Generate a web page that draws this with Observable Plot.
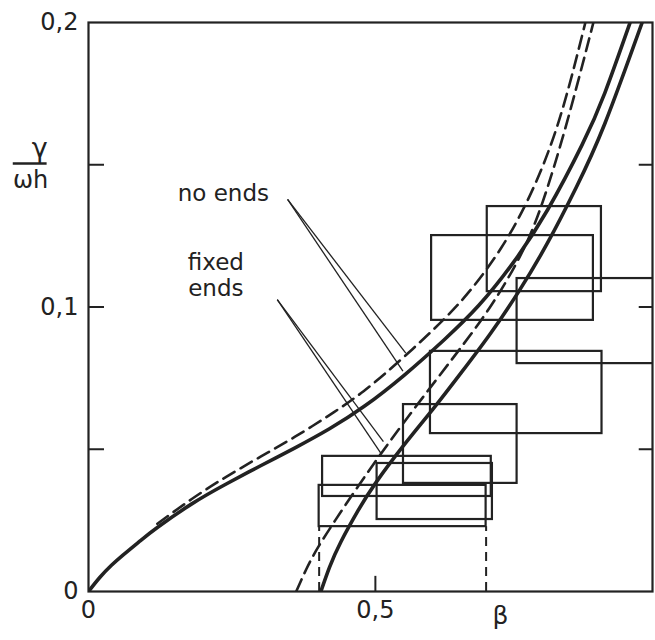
<!DOCTYPE html>
<html>
<head>
<meta charset="utf-8">
<script src="https://cdn.jsdelivr.net/npm/d3@7"></script>
<script src="https://cdn.jsdelivr.net/npm/@observablehq/plot@0.6"></script>
<style>
  html, body { margin: 0; padding: 0; background: #fff; overflow: hidden; }
</style>
</head>
<body>
<div id="chart"></div>
<script>
// ---- tick values / labels ----
const xTickValues = [0, 0.5, 1];
const xTickLabels = ["0", "0,5", "1"];
const yTickValues = [0, 0.1, 0.2];
const yTickLabels = ["0", "0,1", "0,2"];
const yMinorTicks = [0.05, 0.1, 0.15];
const xMinorTicks = [0.5];

// ---- curves (beta, gamma/omega_h) ----
const noEndsSolidBeta  = [0, 0.02, 0.04, 0.06, 0.09, 0.12, 0.18, 0.24, 0.30, 0.36, 0.42, 0.48, 0.55, 0.62, 0.68, 0.74, 0.80, 0.86, 0.90, 0.944];
const noEndsSolidGamma = [0, 0.0050, 0.0092, 0.0128, 0.0178, 0.0225, 0.0308, 0.0378, 0.0442, 0.0505, 0.0572, 0.0650, 0.0760, 0.0885, 0.1005, 0.1155, 0.1341, 0.1569, 0.1753, 0.2];

const noEndsDashBeta  = [0.12, 0.18, 0.24, 0.30, 0.36, 0.42, 0.48, 0.55, 0.62, 0.67, 0.72, 0.77, 0.82, 0.866];
const noEndsDashGamma = [0.0238, 0.0325, 0.0403, 0.0474, 0.0544, 0.0620, 0.0705, 0.0825, 0.0958, 0.1070, 0.1210, 0.1395, 0.1655, 0.2];

const fixedSolidBeta  = [0.405, 0.42, 0.44, 0.47, 0.50, 0.55, 0.60, 0.65, 0.70, 0.75, 0.80, 0.85, 0.90, 0.965];
const fixedSolidGamma = [0, 0.0085, 0.0175, 0.0285, 0.0380, 0.0515, 0.0640, 0.0770, 0.0905, 0.1055, 0.1225, 0.1420, 0.1645, 0.2];

const fixedDashBeta  = [0.362, 0.38, 0.40, 0.43, 0.47, 0.51, 0.55, 0.60, 0.65, 0.70, 0.75, 0.79, 0.834, 0.88];
const fixedDashGamma = [0, 0.0080, 0.0155, 0.0250, 0.0370, 0.0485, 0.0595, 0.0728, 0.0860, 0.1000, 0.1170, 0.1360, 0.1650, 0.2];

// ---- measurement boxes ----
const boxBetaLo  = [0.408, 0.402, 0.503, 0.549, 0.596, 0.598, 0.695, 0.747];
const boxBetaHi  = [0.702, 0.693, 0.704, 0.747, 0.895, 0.880, 0.894, 1.05];
const boxGammaLo = [0.0334, 0.0228, 0.0253, 0.0380, 0.0555, 0.0953, 0.1054, 0.0801];
const boxGammaHi = [0.0475, 0.0373, 0.0450, 0.0657, 0.0844, 0.1251, 0.1353, 0.1100];

// dashed drop lines below the lowest box
const dropBeta = [0.402, 0.693];
const dropGammaTop = 0.0228;

// ---- annotations ----
const labelTexts = ["no ends", "fixed\nends"];
const labelBeta  = [0.235, 0.222];
const labelGamma = [0.1374, 0.1037];
const leaderBeta1  = [0.347, 0.347, 0.329, 0.329];
const leaderGamma1 = [0.1378, 0.1378, 0.1026, 0.1026];
const leaderBeta2  = [0.553, 0.548, 0.514, 0.510];
const leaderGamma2 = [0.0838, 0.0775, 0.0527, 0.0485];

const toPts = (bs, gs) => bs.map((b, i) => ({beta: b, gamma: gs[i]}));
const boxes = boxBetaLo.map((b, i) => ({x1: b, x2: boxBetaHi[i], y1: boxGammaLo[i], y2: boxGammaHi[i]}));
const leaders = leaderBeta1.map((b, i) => ({x1: b, y1: leaderGamma1[i], x2: leaderBeta2[i], y2: leaderGamma2[i]}));
const labels = labelTexts.map((t, i) => ({t, x: labelBeta[i], y: labelGamma[i]}));

const ink = "#222";
const fmt = (vals, labs) => d => labs[vals.indexOf(d)];
const font = "DejaVu Sans, sans-serif";

const chart = Plot.plot({
  width: 655,
  height: 640,
  marginLeft: 88,
  marginRight: 3,
  marginTop: 22,
  marginBottom: 49,
  style: {fontFamily: font, fontSize: "22px", color: ink, background: "#fff"},
  x: {domain: [0, 0.983], axis: null},
  y: {domain: [0, 0.2], axis: null},
  marks: [
    // boxes
    Plot.rect(boxes, {x1: "x1", x2: "x2", y1: "y1", y2: "y2", fill: "none", stroke: ink, strokeWidth: 2.2, clip: true}),
    Plot.ruleX(dropBeta, {x: d => d, y1: 0, y2: dropGammaTop, stroke: ink, strokeWidth: 2, strokeDasharray: "9,6"}),
    // curves
    Plot.line(toPts(noEndsSolidBeta, noEndsSolidGamma), {x: "beta", y: "gamma", curve: "natural", stroke: ink, strokeWidth: 3.6, clip: true}),
    Plot.line(toPts(noEndsDashBeta, noEndsDashGamma), {x: "beta", y: "gamma", curve: "natural", stroke: ink, strokeWidth: 2.6, strokeDasharray: "13,7", clip: true}),
    Plot.line(toPts(fixedSolidBeta, fixedSolidGamma), {x: "beta", y: "gamma", curve: "natural", stroke: ink, strokeWidth: 3.6, clip: true}),
    Plot.line(toPts(fixedDashBeta, fixedDashGamma), {x: "beta", y: "gamma", curve: "natural", stroke: ink, strokeWidth: 2.6, strokeDasharray: "13,7", clip: true}),
    // leaders
    Plot.link(leaders, {x1: "x1", y1: "y1", x2: "x2", y2: "y2", stroke: ink, strokeWidth: 1.3}),
    Plot.text(labels, {x: "x", y: "y", text: "t", textAnchor: "middle", lineAnchor: "bottom", lineHeight: 1.15, fontSize: 23, fill: ink, style: "letter-spacing:2.5px"}),
    // frame and inward ticks
    Plot.frame({stroke: ink, strokeWidth: 2.2}),
    Plot.link(yMinorTicks, {x1: 0, x2: 0.027, y1: d => d, y2: d => d, stroke: ink, strokeWidth: 2}),
    Plot.link(yMinorTicks, {x1: 0.983, x2: 0.959, y1: d => d, y2: d => d, stroke: ink, strokeWidth: 2}),
    Plot.link(xMinorTicks, {x1: d => d, x2: d => d, y1: 0, y2: 0.0055, stroke: ink, strokeWidth: 2}),
    // tick labels
    Plot.axisY({ticks: yTickValues, tickFormat: fmt(yTickValues, yTickLabels), tickSize: 0, tickPadding: 10, label: null, fontSize: 24, fill: ink}),
    Plot.axisX({ticks: xTickValues, tickFormat: fmt(xTickValues, xTickLabels), tickSize: 0, tickPadding: 9, label: null, fontSize: 24, fill: ink}),
    // axis titles
    Plot.text(["β"], {x: 0.718, y: -0.0085, text: d => d, fontSize: 25, fill: ink}),
    Plot.text(["γ"], {x: -0.085, y: 0.1557, text: d => d, fontSize: 27, fill: ink}),
    Plot.link([0], {x1: -0.132, x2: -0.073, y1: 0.1504, y2: 0.1504, stroke: ink, strokeWidth: 2.5}),
    Plot.text(["ωh"], {x: -0.101, y: 0.1445, text: d => d, fontSize: 24, fill: ink})
  ]
});
document.getElementById("chart").appendChild(chart);
</script>
</body>
</html>
